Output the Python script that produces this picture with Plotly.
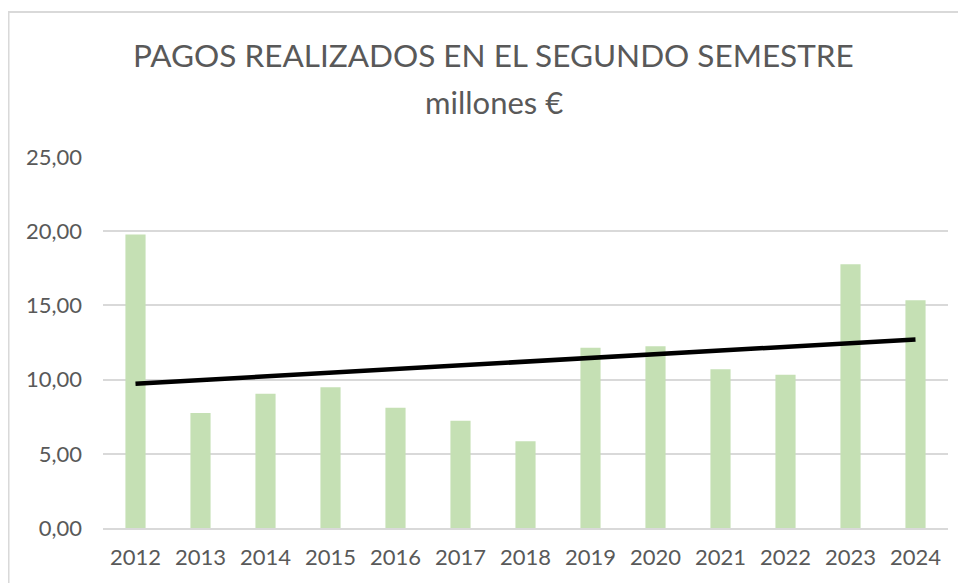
import numpy as np
import plotly.graph_objects as go

years = ["2012", "2013", "2014", "2015", "2016", "2017", "2018",
         "2019", "2020", "2021", "2022", "2023", "2024"]
pagos = [19.77, 7.75, 9.05, 9.48, 8.11, 7.23, 5.84,
         12.15, 12.24, 10.69, 10.33, 17.77, 15.34]
y_ticks = [0, 5, 10, 15, 20, 25]

title_line1 = "PAGOS REALIZADOS EN EL SEGUNDO SEMESTRE"
title_line2 = "millones €"

# linear trend line (least squares over the series)
idx = np.arange(len(pagos))
slope, intercept = np.polyfit(idx, pagos, 1)
trend = (slope * idx + intercept).tolist()

FONT = "Lato"
GREY = "#595959"

fig = go.Figure()
fig.add_trace(go.Bar(x=years, y=pagos, marker_color="#C5E0B4",
                     marker_line_width=0, showlegend=False))
fig.add_trace(go.Scatter(x=years, y=trend, mode="lines",
                         line=dict(color="#000000", width=4.5),
                         showlegend=False))

fig.update_layout(
    width=958, height=575,
    margin=dict(l=95, r=18, t=149, b=55),
    paper_bgcolor="white", plot_bgcolor="white",
    separators=",.",
    bargap=0.69,
    font=dict(family=FONT, color=GREY),
    xaxis=dict(type="category", showgrid=False, showline=True,
               linecolor="#D9D9D9", linewidth=1.6, ticks="",
               tickfont=dict(size=22, color=GREY, family=FONT),
               ticklabelstandoff=9),
    yaxis=dict(range=[0, 25], tickvals=y_ticks, tickformat=".2f",
               showgrid=True, gridcolor="#D9D9D9", gridwidth=1.6,
               zeroline=False, showline=False, ticks="",
               tickfont=dict(size=22, color=GREY, family=FONT),
               ticklabelstandoff=20),
    shapes=[dict(type="rect", xref="paper", yref="paper",
                 x0=-0.1118, x1=1.2, y0=-0.4, y1=1.391,
                 line=dict(color="#D9D9D9", width=2), layer="below")],
    annotations=[
        dict(text=title_line1, xref="paper", yref="paper", x=0.4627, y=1.274,
             xanchor="center", yanchor="middle", showarrow=False,
             font=dict(size=31.5, color=GREY, family=FONT)),
        dict(text=title_line2, xref="paper", yref="paper", x=0.4627, y=1.148,
             xanchor="center", yanchor="middle", showarrow=False,
             font=dict(size=31, color=GREY, family=FONT)),
    ],
)

fig.write_html("out.html")
